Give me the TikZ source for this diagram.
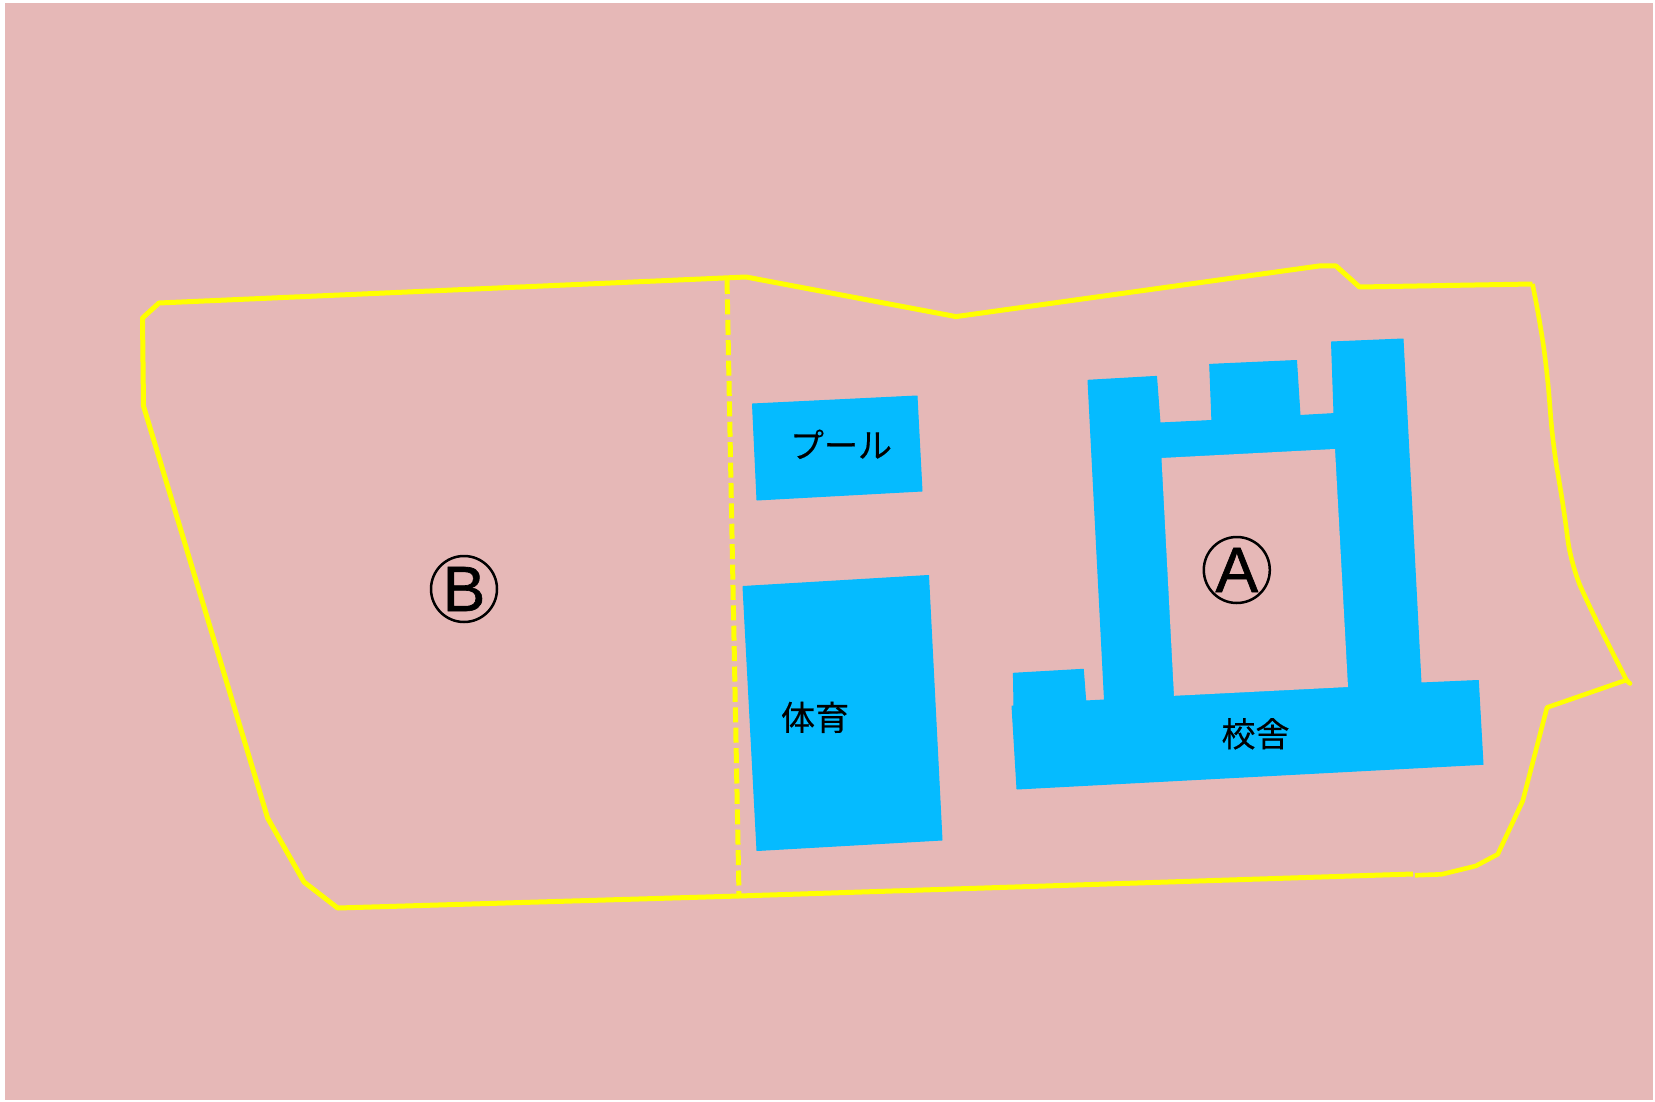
\documentclass[tikz,border=0pt]{standalone}
\usepackage{fontspec}
\newfontfamily\jpfont[FakeBold=0.35]{Noto Sans CJK JP}
\newfontfamily\latinfont[FakeBold=1]{Liberation Sans}
\definecolor{sitebg}{HTML}{E6B8B7}
\definecolor{bldg}{HTML}{05BBFF}
\definecolor{bound}{HTML}{FFFF00}
\tikzset{
  bldgshape/.style={fill=bldg,draw=bldg,line width=1pt,line join=round},
  boundline/.style={draw=bound,line width=5pt,line join=round},
  thinbound/.style={draw=bound,line width=4.6pt,line join=round},
  divider/.style={draw=bound,line width=5pt,dash pattern=on 15pt off 5.4pt},
  roomlabel/.style={font=\jpfont\fontsize{34}{34}\selectfont,inner sep=0pt,text=black},
  zonelabel/.style={font=\latinfont\fontsize{64}{64}\selectfont,circle,draw=black,line width=2.5pt,
    minimum size=66pt,inner sep=0pt,text=black}
}
\begin{document}
\begin{tikzpicture}[x=1pt,y=-1pt]
\useasboundingbox (0,0) rectangle (1655,1102);
\fill[white] (0,0) rectangle (1655,1102);
\fill[sitebg] (5.3,3.5) rectangle (1652.7,1100);
% buildings
\path[bldgshape] (752.5,404) -- (757,500) -- (922,491) -- (917,396) -- cycle;
\path[bldgshape] (743,586.5) -- (757,850.5) -- (942,840) -- (928.5,575.5) -- cycle;
\path[bldgshape] (1012,706) -- (1017,789) -- (1483,764.3) -- (1478.3,680.5) -- (1421,683)
  -- (1403,339) -- (1331.5,342) -- (1334,413.6) -- (1300,415.5) -- (1296.5,360.5)
  -- (1209.7,364.4) -- (1211.9,420.5) -- (1160,423) -- (1156.5,376.4) -- (1088,380.3)
  -- (1104.5,700) -- (1085.7,701) -- (1083.3,669.3) -- (1013.4,673.3) -- (1014,706) -- cycle;
\fill[sitebg] (1161.5,458) -- (1335,449) -- (1348,687) -- (1174,695.8) -- cycle;
% boundary
\draw[boundline] (1413,874) -- (739,896) -- (338,908) -- (337,907.5) -- (304,882) -- (267.6,818)
  -- (143.5,406) -- (142.5,318) -- (159,303) -- (746,277) -- (956,316.6) -- (1319,266) -- (1336,266)
  -- (1359.5,287) -- (1532.5,284);
\draw[thinbound,rounded corners=25pt] (1532.5,284) -- (1540,322) -- (1547,370) -- (1553,445) -- (1564,510) -- (1571,565)
  -- (1589,606) -- (1626.4,680);
\draw[thinbound] (1626.4,680) -- (1630,683.5) -- (1626.4,680) -- (1547,707.5) -- (1522.7,801)
  -- (1497.7,854.3) -- (1475.7,866) -- (1441.7,874.3) -- (1415,875.3);
\coordinate (divtop) at (727,279);
\coordinate (divbot) at (739,895);
\draw[divider] (divtop) -- (divbot);
% labels
\node[roomlabel] (pool) at (841,444.3) {プール};
\node[roomlabel] (gym) at (815,717.3) {体育};
\node[roomlabel] (school) at (1255.5,733.8) {校舎};
\node[zonelabel] (zoneA) at (1236.8,570) {A};
\node[zonelabel] (zoneB) at (464,589) {B};
\end{tikzpicture}
\end{document}
